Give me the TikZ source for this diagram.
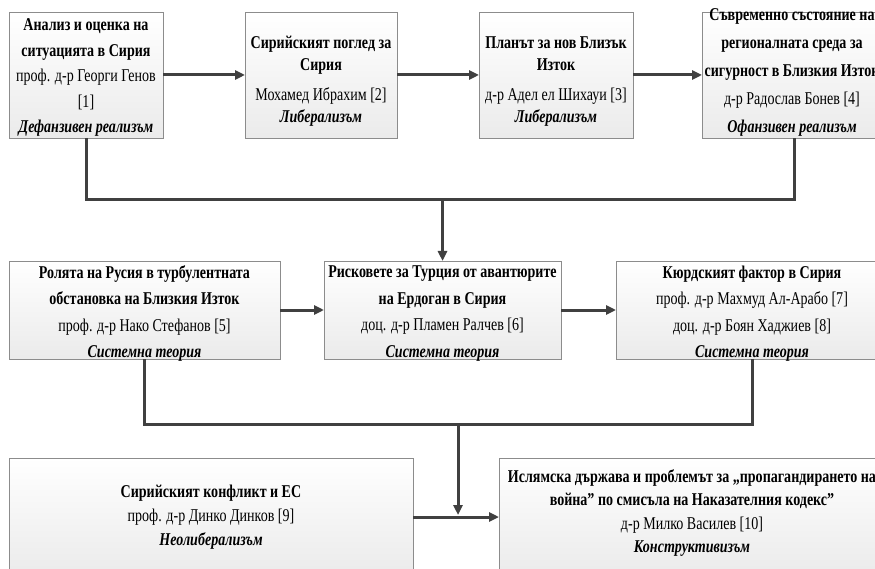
\documentclass[tikz,border=0pt]{standalone}
\usepackage{fontspec}
\setmainfont{Liberation Serif}[FakeStretch=0.78]
\usetikzlibrary{arrows.meta,shadows}
\definecolor{connc}{HTML}{404040}
\definecolor{bord}{HTML}{8C8C8C}
\begin{document}
\begin{tikzpicture}[x=1pt,y=-1pt,
  box/.style={draw=bord, line width=0.8pt, top color=white, bottom color=gray!16,
    inner sep=0pt, outer sep=0pt,
    drop shadow={shadow xshift=1.2pt, shadow yshift=-1.2pt, fill=gray!60, opacity=0.5}},
  txt/.style={align=center, inner sep=0pt, text=black},
  conn/.style={draw=connc, line width=3pt},
  arr/.style={conn, -{Triangle[length=10pt,width=9pt]}}]
\useasboundingbox (0,0) rectangle (875,569);
% boxes
\node[box, minimum width=154pt, minimum height=126pt] (b1) at (86,75) {};
\node[box, minimum width=152pt, minimum height=126pt] (b2) at (321,75) {};
\node[box, minimum width=154pt, minimum height=126pt] (b3) at (556,75) {};
\node[box, minimum width=184pt, minimum height=126pt] (b4) at (794,75) {};
\node[box, minimum width=271pt, minimum height=98pt] (b5) at (144.5,310) {};
\node[box, minimum width=237pt, minimum height=98pt] (b6) at (442.5,310) {};
\node[box, minimum width=272pt, minimum height=98pt] (b7) at (752,310) {};
\node[box, minimum width=404pt, minimum height=118pt] (b8) at (211,517) {};
\node[box, minimum width=386pt, minimum height=118pt] (b9) at (692,517) {};
% texts
\node[txt, font=\fontsize{18}{25.5}\selectfont] (t1) at (86,77.5)
  {\textbf{Анализ и оценка на}\\\textbf{ситуацията в Сирия}\\проф. д-р Георги Генов\\{[1]}\\\textbf{\textit{Дефанзивен реализъм}}};
\node[txt, font=\fontsize{18}{22}\selectfont] (t2) at (321,81.5)
  {\textbf{Сирийският поглед за}\\\textbf{Сирия}\\[8pt]Мохамед Ибрахим [2]\\\textbf{\textit{Либерализъм}}};
\node[txt, font=\fontsize{18}{22}\selectfont] (t3) at (556,81.5)
  {\textbf{Планът за нов Близък}\\\textbf{Изток}\\[8pt]д-р Адел ел Шихауи [3]\\\textbf{\textit{Либерализъм}}};
\node[txt, font=\fontsize{18}{28}\selectfont] (t4) at (792,72.5)
  {\textbf{Съвременно състояние на}\\\textbf{регионалната среда за}\\\textbf{сигурност в Близкия Изток}\\д-р Радослав Бонев [4]\\\textbf{\textit{Офанзивен реализъм}}};
\node[txt, font=\fontsize{18}{26.5}\selectfont] (t5) at (144.5,313.5)
  {\textbf{Ролята на Русия в турбулентната}\\\textbf{обстановка на Близкия Изток}\\проф. д-р Нако Стефанов [5]\\\textbf{\textit{Системна теория}}};
\node[txt, font=\fontsize{18}{26.5}\selectfont] (t6) at (442.5,313.5)
  {\textbf{Рисковете за Турция от авантюрите}\\\textbf{на Ердоган в Сирия}\\доц. д-р Пламен Ралчев [6]\\\textbf{\textit{Системна теория}}};
\node[txt, font=\fontsize{18}{26.5}\selectfont] (t7) at (752,313.5)
  {\textbf{Кюрдският фактор в Сирия}\\проф. д-р Махмуд Ал-Арабо [7]\\доц. д-р Боян Хаджиев [8]\\\textbf{\textit{Системна теория}}};
\node[txt, font=\fontsize{18}{24}\selectfont] (t8) at (211,517)
  {\textbf{Сирийският конфликт и ЕС}\\проф. д-р Динко Динков [9]\\\textbf{\textit{Неолиберализъм}}};
\node[txt, font=\fontsize{18}{23.5}\selectfont] (t9) at (692,513)
  {\textbf{Ислямска държава и проблемът за „пропагандирането на}\\\textbf{война” по смисъла на Наказателния кодекс”}\\д-р Милко Василев [10]\\\textbf{\textit{Конструктивизъм}}};
% connectors
\coordinate (j1) at (442.5,200);
\coordinate (j2) at (458,424);
\coordinate (j3) at (458,515);
\draw[arr] (b1) -- (b2);
\draw[arr] (b2) -- (b3);
\draw[arr] (b3) -- (b4);
\draw[conn] (b1.south) |- (j1) -| (b4.south);
\draw[arr] (j1) -- (b6.north);
\draw[arr] (b5) -- (b6);
\draw[arr] (b6) -- (b7);
\draw[conn] (b5.south) |- (j2) -| (b7.south);
\draw[arr] (j2) -- (j3);
\draw[arr] (b8) -- (b9);
\end{tikzpicture}
\end{document}
